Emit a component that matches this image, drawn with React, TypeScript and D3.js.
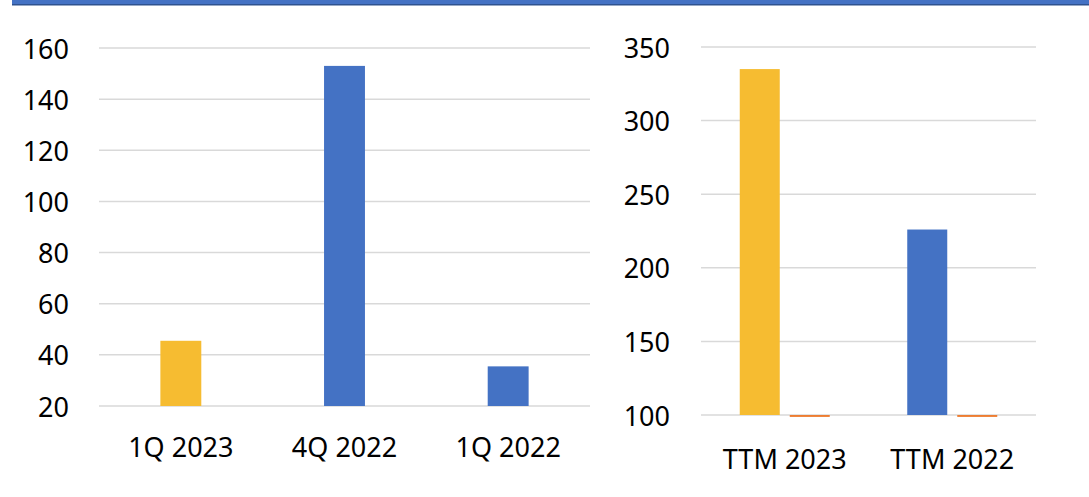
import React from "react";
import * as d3 from "d3";

const leftCategories = ["1Q 2023", "4Q 2022", "1Q 2022"];
const leftValues = [45.5, 153, 35.5];
const leftColors = ["#F6BC31", "#4472C4", "#4472C4"];
const leftTicks = [20, 40, 60, 80, 100, 120, 140, 160];

const rightCategories = ["TTM 2023", "TTM 2022"];
const rightMain = [335, 226];
const rightMainColors = ["#F6BC31", "#4472C4"];
const rightSecond = [98.7, 98.7];
const rightTicks = [100, 150, 200, 250, 300, 350];

const FONT = "'Noto Sans', 'Open Sans', sans-serif";
const GRID = "#D9D9D9";

export default function App() {
  const W = 1089;
  const H = 497;

  // Left chart scales
  const lx = d3.scaleBand<string>().domain(leftCategories).range([99, 590]).padding(0);
  const ly = d3.scaleLinear().domain([20, 160]).range([406, 48]);
  const lbw = lx.step() * 0.25;

  // Right chart scales
  const rx = d3.scaleBand<string>().domain(rightCategories).range([701, 1036]).padding(0);
  const rx1 = d3
    .scaleBand<string>()
    .domain(["main", "second"])
    .range([0, rx.step()])
    .paddingInner(0.2)
    .paddingOuter(0.775);
  const ry = d3.scaleLinear().domain([100, 350]).range([415, 47]);

  return (
    <svg
      width={W}
      height={H}
      style={{ position: "absolute", left: 0, top: 0, background: "#fff" }}
      fontFamily={FONT}
    >
      {/* top band */}
      <rect x={12} y={0} width={W - 12} height={5} fill="#4472C4" />
      <rect x={12} y={4} width={W - 12} height={1.5} fill="#2F528F" />

      {/* Left chart */}
      <g>
        {leftTicks.map((t) => (
          <g key={"lt" + t}>
            <line x1={99} x2={590} y1={ly(t)} y2={ly(t)} stroke={GRID} strokeWidth={1.5} />
            <text
              x={69}
              y={ly(t)}
              textAnchor="end"
              dominantBaseline="central"
              fontSize={27}
              fill="#000"
            >
              {t}
            </text>
          </g>
        ))}
        {leftCategories.map((c, i) => {
          const cx = (lx(c) as number) + lx.step() / 2;
          const v = leftValues[i];
          return (
            <g key={"lb" + c}>
              <rect
                x={cx - lbw / 2}
                y={ly(v)}
                width={lbw}
                height={ly(20) - ly(v)}
                fill={leftColors[i]}
              />
              <text x={cx} y={457} textAnchor="middle" fontSize={27} fill="#000">
                {c}
              </text>
            </g>
          );
        })}
      </g>

      {/* Right chart */}
      <g>
        {rightTicks.map((t) => (
          <g key={"rt" + t}>
            <line x1={701} x2={1036} y1={ry(t)} y2={ry(t)} stroke={GRID} strokeWidth={1.5} />
            <text
              x={670}
              y={ry(t)}
              textAnchor="end"
              dominantBaseline="central"
              fontSize={27}
              fill="#000"
            >
              {t}
            </text>
          </g>
        ))}
        {rightCategories.map((c, i) => {
          const x0 = rx(c) as number;
          const vm = rightMain[i];
          const vs = rightSecond[i];
          return (
            <g key={"rb" + c}>
              <rect
                x={x0 + (rx1("main") as number)}
                y={ry(vm)}
                width={rx1.bandwidth()}
                height={ry(100) - ry(vm)}
                fill={rightMainColors[i]}
              />
              <rect
                x={x0 + (rx1("second") as number)}
                y={Math.min(ry(100), ry(vs))}
                width={rx1.bandwidth()}
                height={Math.abs(ry(vs) - ry(100))}
                fill="#ED7D31"
              />
              <text
                x={x0 + rx.step() / 2}
                y={469}
                textAnchor="middle"
                fontSize={27}
                fill="#000"
              >
                {c}
              </text>
            </g>
          );
        })}
      </g>
    </svg>
  );
}
